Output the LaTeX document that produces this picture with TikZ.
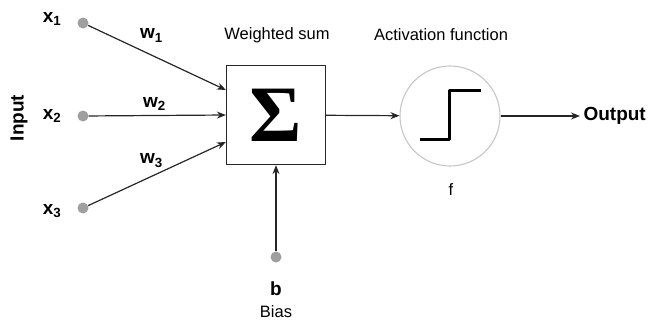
\documentclass[tikz,border=0pt]{standalone}
\usepackage{fontspec}
\setmainfont{Liberation Sans}
\newfontfamily\sigmafont{Liberation Serif}
\usetikzlibrary{positioning,arrows.meta}
\begin{document}
\begin{tikzpicture}[x=1pt, y=-1pt, line join=round, >={Stealth[length=9pt,width=7pt]}, font=\fontsize{16.5}{18}\selectfont,
  dot/.style={circle, fill=gray!75, inner sep=0pt, minimum size=11pt},
  lbl/.style={font=\fontsize{19}{21}\selectfont\bfseries},
  wire/.style={->, draw=black!85, line width=1.2pt}]
  \useasboundingbox (0,0) rectangle (648,322);
  % inputs
  \node[dot] (x1) at (83,23) {};
  \node[dot] (x2) at (83,116) {};
  \node[dot] (x3) at (83,208) {};
  \node[lbl] at (52,19) {x$_{\mathbf 1}$};
  \node[lbl] at (52,116) {x$_{\mathbf 2}$};
  \node[lbl] at (52,211) {x$_{\mathbf 3}$};
  \node[lbl, rotate=90] at (19,118) {Input};
  % weighted sum
  \node[draw=black!85, line width=1.2pt, minimum size=99pt, inner sep=0pt] (wsum) at (276,115) {};
  \node[font=\fontsize{80}{84}\selectfont\sigmafont\bfseries] at (wsum) {Σ};
  \node at (277,35) {Weighted sum};
  \draw[wire] (x1) -- ([yshift=25pt]wsum.west) node[pos=0.46, above=9pt, lbl] {w$_{\mathbf 1}$};
  \draw[wire] (x2) -- (wsum.west) node[pos=0.48, above=1pt, lbl] {w$_{\mathbf 2}$};
  \draw[wire] (x3) -- ([yshift=-27pt]wsum.west) node[pos=0.46, above=5pt, lbl] {w$_{\mathbf 3}$};
  % bias
  \node[dot] (b) at (276,257) {};
  \node[lbl] (bl) at (276,289) {b};
  \node (bias) at (276,312) {Bias};
  \draw[wire] (b) -- (wsum.south);
  % activation
  \node[circle, draw=gray!45, line width=1.1pt, minimum size=100pt, inner sep=0pt] (act) at (450,116) {};
  \draw[line width=3pt] ([shift={(-30pt,-23pt)}]act.center) -- ++(29pt,0) -- ++(0,49pt) -- ++(32pt,0);
  \node at (441,35) {Activation function};
  \node at (451,190) {f};
  \draw[wire] (wsum) -- (act);
  % output
  \node[lbl, anchor=west] (out) at (580,116) {Output};
  \draw[wire] (act) -- (out);
\end{tikzpicture}
\end{document}
